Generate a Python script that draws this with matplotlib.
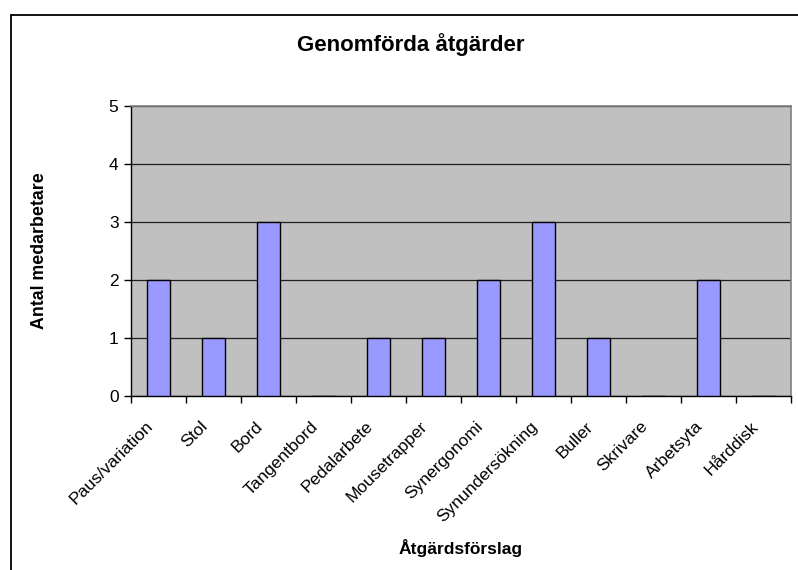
import matplotlib
matplotlib.use("Agg")
import matplotlib.pyplot as plt
from matplotlib.patches import Rectangle
from matplotlib.transforms import ScaledTranslation

categories = ["Paus/variation", "Stol", "Bord", "Tangentbord", "Pedalarbete",
              "Mousetrapper", "Synergonomi", "Synundersökning", "Buller",
              "Skrivare", "Arbetsyta", "Hårddisk"]
values = [2, 1, 3, 0, 1, 1, 2, 3, 1, 0, 2, 0]

plt.rcParams['font.family'] = ['Liberation Sans', 'DejaVu Sans']

W, H = 798, 570
fig = plt.figure(figsize=(W/100, H/100), dpi=100)
L, R, T, B = 131, 791, 106, 396
ax = fig.add_axes([L/W, 1 - B/H, (R-L)/W, (B-T)/H])
ax.set_facecolor('#C0C0C0')

x = list(range(len(categories)))
ax.bar(x, values, width=0.43, color='#9999FF', edgecolor='black', linewidth=1.0, zorder=3)
ax.set_xlim(-0.5, len(categories) - 0.5)
ax.set_ylim(0, 5)
ax.set_yticks(range(0, 6))
ax.yaxis.grid(True, color='#202020', linewidth=0.9, zorder=1)
ax.set_axisbelow(True)

ax.set_xticks([i - 0.5 for i in range(len(categories) + 1)])
ax.set_xticklabels([])
ax.set_xticks(x, minor=True)
ax.set_xticklabels(categories, minor=True, rotation=45, ha='right', va='center',
                   rotation_mode='anchor', fontsize=12.5)
ax.tick_params(axis='x', which='minor', length=0, pad=0)
offset = ScaledTranslation(-8/100, -28/100, fig.dpi_scale_trans)
for lab in ax.get_xticklabels(minor=True):
    lab.set_transform(lab.get_transform() + offset)
ax.tick_params(axis='x', which='major', length=5, width=1, color='black', direction='out')
ax.tick_params(axis='y', length=5, width=1, direction='out', labelsize=12.5, pad=4)

for s in ['top', 'right']:
    ax.spines[s].set_color('#808080')
    ax.spines[s].set_linewidth(1.2)
for s in ['left', 'bottom']:
    ax.spines[s].set_color('black')
    ax.spines[s].set_linewidth(1.0)

fig.text(411/W, 1 - 45/H, "Genomförda åtgärder", ha='center', va='center',
         fontsize=16, fontweight='bold')
fig.text(40/W, 1 - 251/H, "Antal medarbetare", ha='center', va='center',
         rotation=90, fontsize=12.8, fontweight='bold')
fig.text(461/W, 1 - 548/H, "Åtgärdsförslag", ha='center', va='center',
         fontsize=12.5, fontweight='bold')

fig.patches.append(Rectangle((11/W, -0.1), 1.2, 1 - 15/H + 0.1,
                             transform=fig.transFigure, fill=False,
                             edgecolor='black', linewidth=1.3))

fig.savefig('out.png', dpi=100)
